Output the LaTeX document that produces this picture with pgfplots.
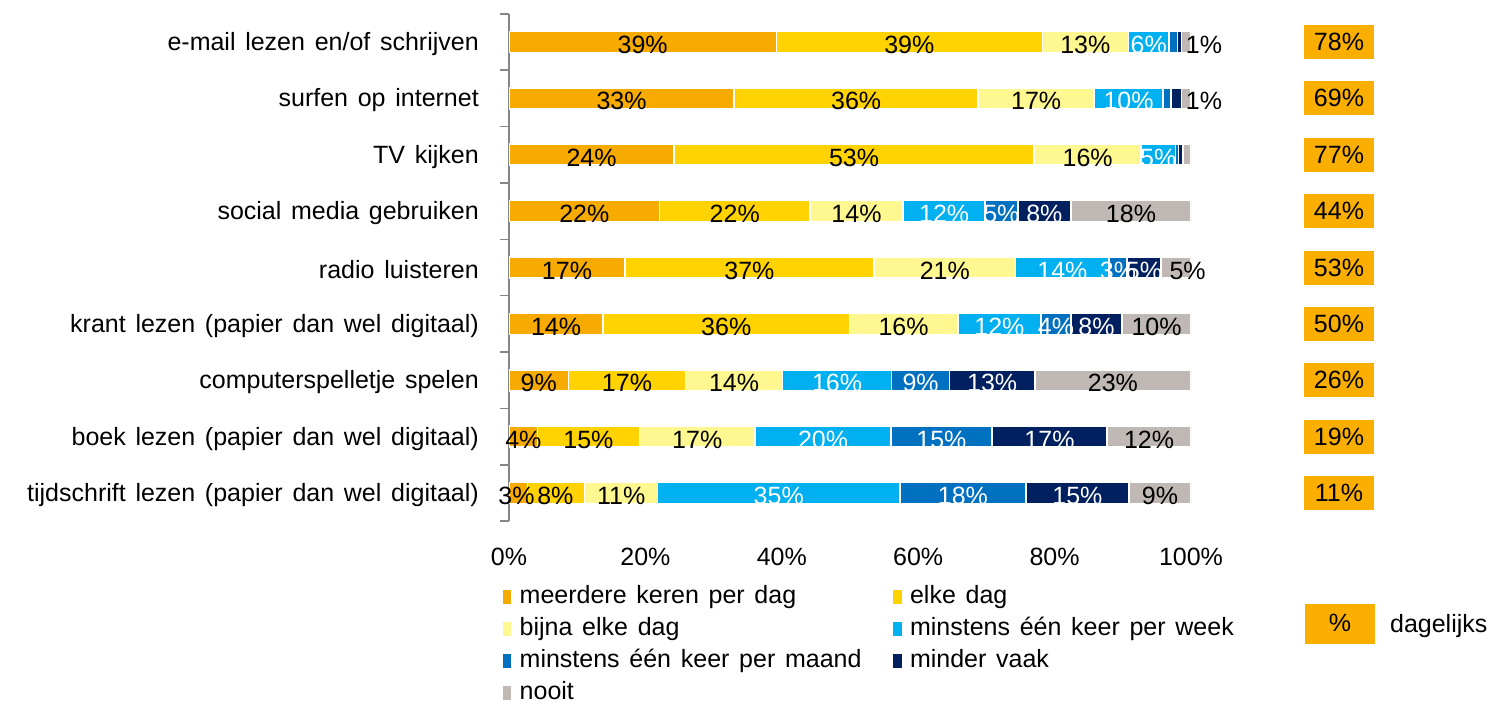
\documentclass[border=0pt]{standalone}
\usepackage{pgfplots}
\pgfplotsset{compat=1.18}
\usepackage{fontspec}
\setmainfont{Liberation Sans}[WordSpace=1.4]
\definecolor{cOr}{HTML}{F7AA00}
\definecolor{cGo}{HTML}{FFD200}
\definecolor{cLy}{HTML}{FFF78F}
\definecolor{cLb}{HTML}{00B0F0}
\definecolor{cMb}{HTML}{0070C0}
\definecolor{cDb}{HTML}{002060}
\definecolor{cGr}{HTML}{BFB8B5}
\definecolor{cAx}{HTML}{868686}
\definecolor{cBox}{HTML}{F9AE00}
\newcommand{\F}{\fontsize{25bp}{30bp}\selectfont}
\begin{document}
\begin{tikzpicture}
\useasboundingbox (0,0) rectangle (1491bp,704bp);
\pgfplotsset{
 /pgf/number format/assume math mode=true,
 base/.style={at={(509bp,182.8bp)}, anchor=south west, scale only axis,
   width=682bp, height=507.4bp, xmin=0, xmax=100, ymin=0.5, ymax=9.5, y dir=reverse},
}
\begin{axis}[base,
 xbar stacked, bar width=21bp,
 axis lines*=left,
 x axis line style={draw=none},
 y axis line style={draw=cAx, line width=2bp},
 xtick={0,20,...,100}, xticklabel={\pgfmathprintnumber{\tick}\%},
 xtick style={draw=none},
 xticklabel style={font=\F, inner sep=0pt, anchor=north, yshift=-27bp},
 ytick={1,...,9},
 yticklabels={e-mail lezen en/of schrijven, surfen op internet, TV kijken, social media gebruiken, radio luisteren, krant lezen (papier dan wel digitaal), computerspelletje spelen, boek lezen (papier dan wel digitaal), tijdschrift lezen (papier dan wel digitaal)},
 major tick length=0pt,
 minor ytick={0.5,1.5,...,9.5},
 minor tick length=9bp, tick align=outside,
 every minor tick/.append style={draw=cAx, line width=1.5bp},
 yticklabel style={font=\F, inner sep=0pt, xshift=-30bp, yshift=-2bp},
 legend columns=2,
 legend cell align=left,
 legend style={at={(-0.0117,-0.1218)}, anchor=north west, draw=none, fill=none,
   inner sep=0pt, font=\F, row sep=4bp,
   nodes={inner sep=2bp, text height=18bp, text depth=6bp},
   /tikz/every odd column/.append style={column sep=5bp},
   /tikz/every even column/.append style={column sep=28bp}},
 legend image code/.code={\fill[#1] (0bp,-7.5bp) rectangle (10bp,7.5bp);},
]
\addplot[fill=cOr, draw=white, line width=1.5bp] coordinates {(39.2,1) (33.0,2) (24.2,3) (22.1,4) (17.0,5) (13.8,6) (8.7,7) (4.2,8) (2.7,9)};
\addlegendentry{meerdere keren per dag}
\addplot[fill=cGo, draw=white, line width=1.5bp] coordinates {(39.0,1) (35.8,2) (52.8,3) (22.0,4) (36.5,5) (36.1,6) (17.2,7) (14.9,8) (8.4,9)};
\addlegendentry{elke dag}
\addplot[fill=cLy, draw=white, line width=1.5bp] coordinates {(12.6,1) (17.0,2) (15.7,3) (13.7,4) (20.8,5) (15.9,6) (14.2,7) (17.0,8) (10.7,9)};
\addlegendentry{bijna elke dag}
\addplot[fill=cLb, draw=white, line width=1.5bp] coordinates {(6.0,1) (10.1,2) (5.0,3) (12.0,4) (13.7,5) (12.2,6) (16.0,7) (19.9,8) (35.5,9)};
\addlegendentry{minstens één keer per week}
\addplot[fill=cMb, draw=white, line width=1.5bp] coordinates {(1.2,1) (1.2,2) (0.5,3) (4.8,4) (2.6,5) (4.4,6) (8.5,7) (14.8,8) (18.5,9)};
\addlegendentry{minstens één keer per maand}
\addplot[fill=cDb, draw=white, line width=1.5bp] coordinates {(0.6,1) (1.5,2) (0.6,3) (7.8,4) (5.0,5) (7.5,6) (12.5,7) (16.9,8) (15.1,9)};
\addlegendentry{minder vaak}
\addplot[fill=cGr, draw=white, line width=1.5bp] coordinates {(1.4,1) (1.4,2) (1.2,3) (17.6,4) (4.4,5) (10.1,6) (22.9,7) (12.3,8) (9.1,9)};
\addlegendentry{nooit}
\end{axis}
\begin{axis}[base, axis lines=none, clip=false,
 legend style={at={(1.167,-0.2026)}, anchor=west, draw=none, fill=none,
   inner sep=0pt, font=\F, nodes={inner sep=2bp},
   /tikz/every odd column/.append style={column sep=13bp}},
]
\addplot[only marks, mark=none, forget plot,
  nodes near coords={\pgfmathprintnumber{\pgfplotspointmeta}\%}, point meta=explicit,
  every node near coord/.append style={anchor=center, font=\F, text=black, yshift=-3bp, inner sep=0pt}]
 table[meta=v] {
x y v
19.6 1 39
58.7 1 39
84.5 1 13
101.9 1 1
16.5 2 33
50.9 2 36
77.3 2 17
101.9 2 1
12.1 3 24
50.6 3 53
84.85 3 16
11.05 4 22
33.1 4 22
50.95 4 14
91.2 4 18
8.5 5 17
35.25 5 37
63.9 5 21
6.9 6 14
31.85 6 36
57.85 6 16
94.95 6 10
4.35 7 9
17.3 7 17
33.0 7 14
88.55 7 23
2.1 8 4
11.65 8 15
27.6 8 17
93.85 8 12
1.1 9 3
6.8 9 8
16.45 9 11
95.45 9 9
};
\addplot[only marks, mark=none, forget plot,
  nodes near coords={\pgfmathprintnumber{\pgfplotspointmeta}\%}, point meta=explicit,
  every node near coord/.append style={anchor=center, font=\F, text=white, yshift=-3bp, inner sep=0pt}]
 table[meta=v] {
x y v
93.8 1 6
90.85 2 10
95.2 3 5
63.8 4 12
72.2 4 5
78.5 4 8
81.15 5 14
89.3 5 3
93.1 5 5
71.9 6 12
80.2 6 4
86.15 6 8
48.1 7 16
60.35 7 9
70.85 7 13
46.05 8 20
63.4 8 15
79.25 8 17
39.55 9 35
66.55 9 18
83.35 9 15
};
\addplot[only marks, mark=none, forget plot,
  nodes near coords={\pgfmathprintnumber{\pgfplotspointmeta}\%}, point meta=explicit,
  every node near coord/.append style={anchor=center, font=\F, text=black, yshift=-3bp, inner sep=0pt}]
 table[meta=v] {
x y v
99.5 5 5
};
\addplot[only marks, mark=none,
  nodes near coords={\pgfmathprintnumber{\pgfplotspointmeta}\%}, point meta=explicit,
  every node near coord/.append style={anchor=center, font=\F, text=black, fill=cBox,
    minimum width=70bp, minimum height=34bp, inner sep=0pt},
  legend image code/.code={\node[fill=cBox, minimum width=70bp, minimum height=40bp, inner sep=0pt, font=\F, anchor=west] at (0bp,0bp) {\%};}]
 table[meta=v] {
x y v
121.7 1 78
121.7 2 69
121.7 3 77
121.7 4 44
121.7 5 53
121.7 6 50
121.7 7 26
121.7 8 19
121.7 9 11
};
\addlegendentry{dagelijks}
\end{axis}
\end{tikzpicture}
\end{document}
